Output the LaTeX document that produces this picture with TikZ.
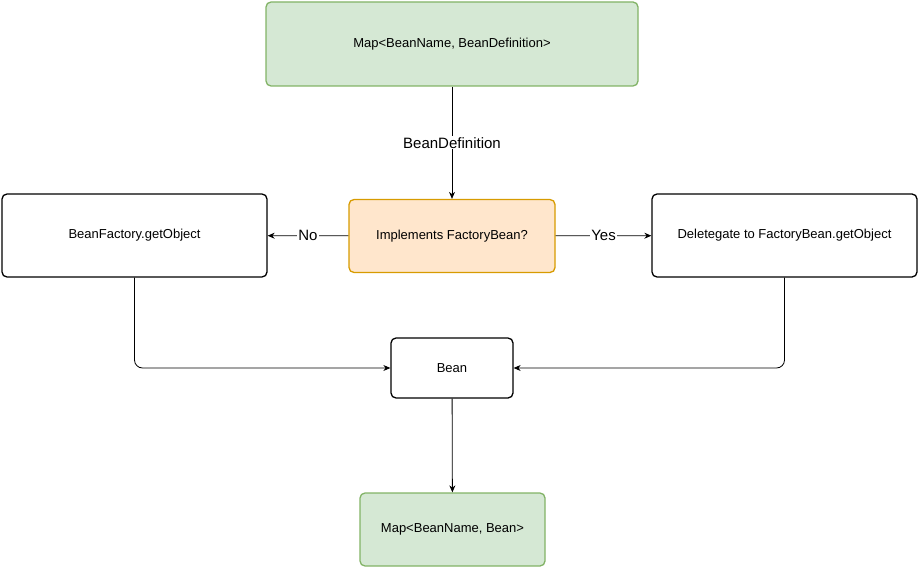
\documentclass[tikz,border=0pt]{standalone}
\usepackage{fontspec}
\setmainfont{Liberation Sans}
\usetikzlibrary{arrows.meta}
\definecolor{greenfill}{HTML}{D5E8D4}
\definecolor{greenline}{HTML}{82B366}
\definecolor{orangefill}{HTML}{FFE6CC}
\definecolor{orangeline}{HTML}{D79B00}
\tikzset{
  box/.style={draw=black, line width=1.3pt, rounded corners=5pt, fill=white,
    font=\fontsize{13}{15}\selectfont, inner sep=0pt},
  greenbox/.style={box, draw=greenline, fill=greenfill},
  orangebox/.style={box, draw=orangeline, fill=orangefill},
  link/.style={-{Stealth[length=7pt,width=6pt]}, line width=0.8pt},
  lbl/.style={fill=white, font=\fontsize{15}{17}\selectfont, inner sep=1pt}
}
\begin{document}
\begin{tikzpicture}[x=1pt,y=-1pt]
  \useasboundingbox (0,0) rectangle (918,567);

  % nodes
  \node[greenbox, minimum width=372pt, minimum height=84pt] (map) at (452,44) {Map<BeanName, BeanDefinition>};
  \node[orangebox, minimum width=206pt, minimum height=73pt] (check) at (452,236) {Implements FactoryBean?};
  \node[box, minimum width=265pt, minimum height=83pt] (factory) at (134.5,235.5) {BeanFactory.getObject};
  \node[box, minimum width=265pt, minimum height=83pt] (delegate) at (784.5,235.5) {Deletegate to FactoryBean.getObject};
  \node[box, minimum width=122pt, minimum height=60pt] (bean) at (452,368) {Bean};
  \node[greenbox, minimum width=185pt, minimum height=73pt] (result) at (452.5,529.5) {Map<BeanName, Bean>};

  % connectors
  \draw[link] (map) -- node[lbl] {BeanDefinition} (check);
  \draw[link] (check) -- node[lbl] {No} (factory);
  \draw[link] (check) -- node[lbl] {Yes} (delegate);
  \draw[link, rounded corners=8pt] (factory.south) |- (bean.west);
  \draw[link, rounded corners=8pt] (delegate.south) |- (bean.east);
  \draw[link] (bean) -- (result);
\end{tikzpicture}
\end{document}
